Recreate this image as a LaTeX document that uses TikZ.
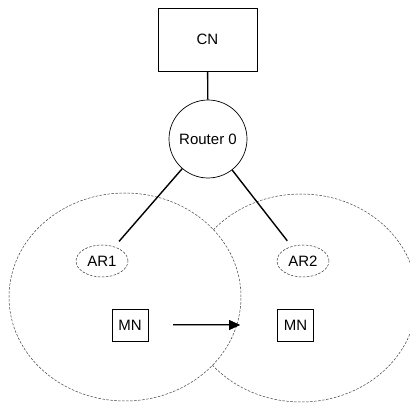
\documentclass[tikz,border=0pt]{standalone}
\usepackage{fontspec}
\setmainfont{Liberation Sans}
\usetikzlibrary{arrows.meta,shapes.geometric}

\begin{document}
\begin{tikzpicture}[x=1pt,y=-1pt,font=\fontsize{15}{18}\selectfont,
  cell/.style={ellipse, draw=black!75, dash pattern=on 2.5pt off 1.5pt, line width=0.5pt, minimum width=232pt, minimum height=208pt, inner sep=0pt},
  agent/.style={ellipse, draw=black!80, dash pattern=on 2.5pt off 1.5pt, line width=0.5pt, minimum width=52pt, minimum height=32pt, inner sep=0pt},
  host/.style={rectangle, draw=black, line width=0.7pt, minimum width=36pt, minimum height=32pt, inner sep=0pt},
  link/.style={line width=1.4pt, shorten >=7pt}]
\clip (0,0) rectangle (410,403);
% coverage areas, the left one hides part of the right one
\node [cell](C2) at (301,298){};
\node [cell, fill=white](C1) at (125,297){};
\node [rectangle, draw=black, line width=0.7pt, minimum width=99pt, minimum height=63pt](CN) at (207.5,39.5){CN};
\node [circle, draw=black, line width=0.7pt, minimum size=78pt, inner sep=0pt](R0) at (208,139){Router 0};
\node [agent](AR1) at (102,261){AR1};
\node [agent](AR2) at (303,261){AR2};
\node [host](MN1) at (130,325){MN};
\node [host](MN2) at (295.5,325){MN};
\draw [line width=1.4pt](CN) -- (R0);
\draw [link](R0) -- (AR1);
\draw [link](R0) -- (AR2);
% handover of the mobile node
\draw [line width=0.7pt, double=black!40, double distance=0.8pt, shorten <=25pt, shorten >=37pt, -{Triangle[length=11pt,width=10pt]}](MN1) -- (MN2);
\end{tikzpicture}
\end{document}
